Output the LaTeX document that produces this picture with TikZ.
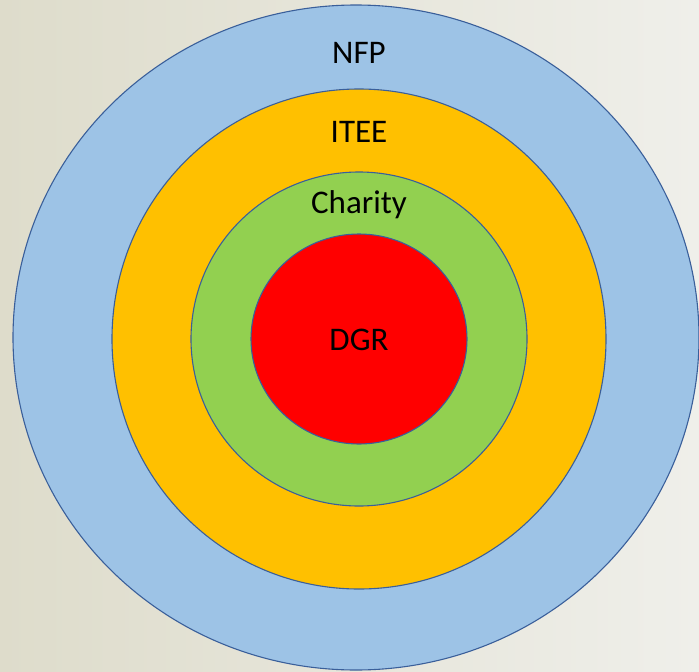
\documentclass[tikz,border=0pt]{standalone}
\usepackage{fontspec}
\setmainfont{Carlito}
\usetikzlibrary{shapes.geometric}
\definecolor{bgleft}{HTML}{DEDCCB}
\definecolor{bgright}{HTML}{EFEFEA}
\definecolor{ringblue}{HTML}{9DC3E6}
\definecolor{ringyellow}{HTML}{FFC000}
\definecolor{ringgreen}{HTML}{92D050}
\definecolor{ringred}{HTML}{FF0000}
\definecolor{edgeblue}{HTML}{3A5F9A}
\tikzset{
  ring/.style={ellipse, draw=edgeblue, line width=1.1pt, inner sep=0pt},
  lbl/.style={anchor=base, font=\fontsize{33}{33}\selectfont, text=black, inner sep=0pt}
}
\begin{document}
\begin{tikzpicture}[x=1pt, y=-1pt]
  % page background
  \useasboundingbox (0,0) rectangle (699,672);
  \shade[left color=bgleft, right color=bgright] (0,0) rectangle (699,672);
  % nested rings, outermost first
  \node[ring, fill=ringblue,   minimum width=686pt, minimum height=665pt] (nfp)     at (356,337.5) {};
  \node[ring, fill=ringyellow, minimum width=494pt, minimum height=500pt] (itee)    at (359,339) {};
  \node[ring, fill=ringgreen,  minimum width=336pt, minimum height=334pt] (charity) at (359,339) {};
  \node[ring, fill=ringred,    minimum width=216pt, minimum height=210pt] (dgr)     at (359,339) {};
  % ring labels
  \node[lbl] (tnfp)     at (359,63)  {NFP};
  \node[lbl] (titee)    at (359,142) {ITEE};
  \node[lbl] (tcharity) at (359,213) {Charity};
  \node[lbl] (tdgr)     at (359,350) {DGR};
\end{tikzpicture}
\end{document}
